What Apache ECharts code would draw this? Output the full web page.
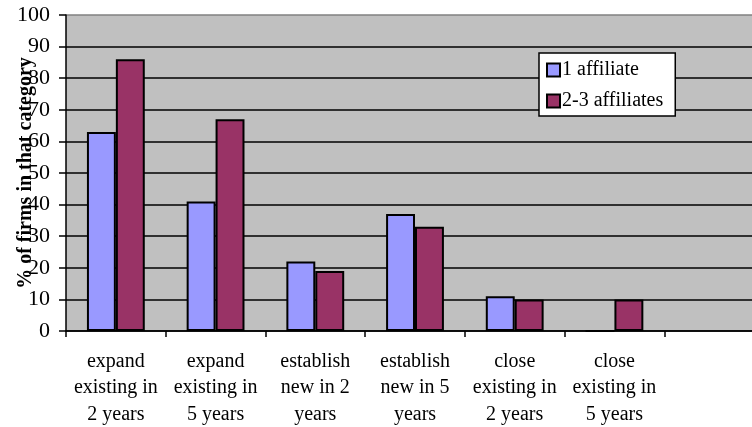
<!DOCTYPE html>
<html>
<head>
<meta charset="utf-8">
<script src="https://cdn.jsdelivr.net/npm/echarts@6/dist/echarts.min.js"></script>
<style>
  html, body { margin: 0; padding: 0; background: #ffffff; }
  #chart { width: 752px; height: 427px; }
</style>
</head>
<body>
<div id="chart"></div>
<script>
// Planned changes in affiliate activity, by number of affiliates
const categories = [
  'expand\nexisting in\n2 years',
  'expand\nexisting in\n5 years',
  'establish\nnew in 2\nyears',
  'establish\nnew in 5\nyears',
  'close\nexisting in\n2 years',
  'close\nexisting in\n5 years',
  ''
];
const oneAffiliate = [63, 41, 22, 37, 11, 0, '-'];
const twoThreeAffiliates = [86, 67, 19, 33, 10, 10, '-'];
const yTicks = { min: 0, max: 100, interval: 10 };

const serif = '"Liberation Serif", "Times New Roman", serif';

// grid lines: black inside, grey frame at the top
const gridColors = [];
for (let v = yTicks.min; v <= yTicks.max; v += yTicks.interval) {
  gridColors.push(v === yTicks.max ? '#808080' : '#000000');
}

const chart = echarts.init(document.getElementById('chart'), null, { renderer: 'canvas' });
chart.setOption({
  animation: false,
  backgroundColor: '#ffffff',
  grid: {
    left: 66, top: 15, bottom: 96, width: 698,
    outerBoundsMode: 'none',
    containLabel: false,
    show: true, backgroundColor: '#C0C0C0', borderWidth: 0
  },
  legend: {
    orient: 'vertical',
    left: 539, top: 53,
    backgroundColor: '#ffffff',
    borderColor: '#000000', borderWidth: 1.5,
    padding: [7, 12, 5, 7],
    itemWidth: 13, itemHeight: 13, itemGap: 11,
    icon: 'rect',
    textStyle: { fontFamily: serif, fontSize: 20, color: '#000', padding: [0, 0, 0, -3] },
    data: ['1 affiliate', '2-3 affiliates']
  },
  xAxis: {
    type: 'category',
    data: categories,
    axisLine: { show: true, lineStyle: { color: '#000', width: 1.5 } },
    axisTick: { show: true, length: 6, interval: 0, lineStyle: { color: '#000', width: 1.5 } },
    axisLabel: {
      interval: 0, margin: 17,
      fontFamily: serif, fontSize: 20, color: '#000', lineHeight: 26.5
    }
  },
  yAxis: {
    type: 'value',
    min: yTicks.min, max: yTicks.max, interval: yTicks.interval,
    name: '% of firms in that category',
    nameLocation: 'middle',
    nameGap: 30,
    nameMoveOverlap: false,
    nameTextStyle: { fontFamily: serif, fontSize: 20, fontWeight: 'bold', color: '#000' },
    axisLine: { show: true, lineStyle: { color: '#000', width: 1.5 } },
    axisTick: { show: true, length: 7, lineStyle: { color: '#000', width: 1.5 } },
    axisLabel: { margin: 16, fontFamily: serif, fontSize: 22, color: '#000' },
    splitLine: { show: true, lineStyle: { color: gridColors, width: 1.5 } }
  },
  series: [
    {
      name: '1 affiliate',
      type: 'bar',
      data: oneAffiliate,
      barGap: '0%',
      barCategoryGap: '42%',
      itemStyle: { color: '#9999FF', borderColor: '#000', borderWidth: 2 }
    },
    {
      name: '2-3 affiliates',
      type: 'bar',
      data: twoThreeAffiliates,
      barGap: '0%',
      barCategoryGap: '42%',
      itemStyle: { color: '#993366', borderColor: '#000', borderWidth: 2 }
    }
  ]
});
</script>
</body>
</html>
